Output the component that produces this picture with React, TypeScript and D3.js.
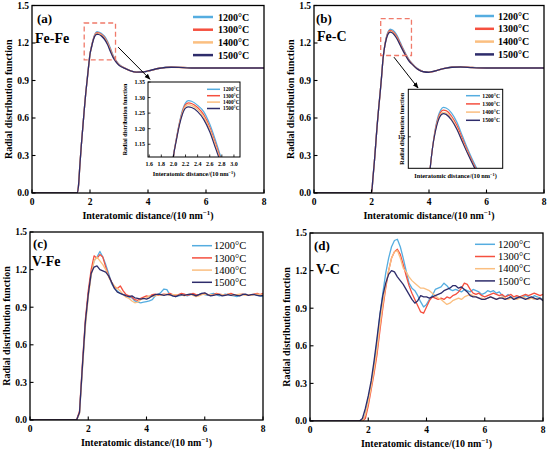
import * as d3 from "d3";

const TEMPS = ["1200°C", "1300°C", "1400°C", "1500°C"];
const COLORS = ["#55ade0", "#f5503f", "#fbbf80", "#2e2c6b"];

// Fe-Fe
const FEFE_X = [0, 1.5, 1.55, 1.6, 1.65, 1.7, 1.75, 1.8, 1.85, 1.9, 1.95, 2.0, 2.05, 2.1, 2.15, 2.2, 2.25, 2.3,
  2.4, 2.5, 2.6, 2.7, 2.8, 2.9, 3.0, 3.2, 3.4, 3.6, 3.8, 4.0, 4.4, 4.8, 5.2, 5.6, 6.0, 7.0, 8.0];
const FEFE_1200 = [0, 0, 0, 0.05, 0.22, 0.38, 0.52, 0.66, 0.79, 0.9, 1.01, 1.11, 1.17, 1.22, 1.26, 1.283, 1.29, 1.288,
  1.275, 1.255, 1.215, 1.16, 1.1, 1.06, 1.03, 1.0, 0.978, 0.966, 0.966, 0.975, 0.998, 1.008, 1.005, 1.0, 1.0, 1.0, 1.0];
const FEFE_1300 = [0, 0, 0, 0.05, 0.22, 0.38, 0.52, 0.66, 0.79, 0.9, 1.01, 1.11, 1.168, 1.218, 1.255, 1.277, 1.283, 1.281,
  1.268, 1.245, 1.205, 1.15, 1.093, 1.055, 1.027, 0.999, 0.977, 0.966, 0.967, 0.976, 0.998, 1.007, 1.004, 1.0, 1.0, 1.0, 1.0];
const FEFE_1400 = [0, 0, 0, 0.05, 0.22, 0.38, 0.52, 0.66, 0.79, 0.9, 1.01, 1.11, 1.166, 1.215, 1.251, 1.272, 1.277, 1.275,
  1.262, 1.238, 1.198, 1.143, 1.088, 1.051, 1.025, 0.998, 0.977, 0.967, 0.967, 0.976, 0.998, 1.006, 1.004, 1.0, 1.0, 1.0, 1.0];
const FEFE_1500 = [0, 0, 0, 0.05, 0.22, 0.38, 0.52, 0.66, 0.79, 0.9, 1.01, 1.11, 1.164, 1.212, 1.247, 1.266, 1.27, 1.268,
  1.255, 1.23, 1.19, 1.135, 1.083, 1.048, 1.022, 0.997, 0.977, 0.967, 0.968, 0.977, 0.998, 1.006, 1.003, 1.0, 1.0, 1.0, 1.0];

// Fe-C
const FEC_X = [0, 1.9, 2.0, 2.05, 2.1, 2.15, 2.2, 2.25, 2.3, 2.35, 2.4, 2.45, 2.5, 2.55, 2.6, 2.65, 2.7, 2.8, 2.9,
  3.0, 3.1, 3.2, 3.3, 3.4, 3.6, 3.8, 4.0, 4.2, 4.5, 4.8, 5.1, 5.5, 6.0, 6.5, 7.0, 7.5, 8.0];
const FEC_1200 = [0, 0, 0, 0.12, 0.25, 0.4, 0.55, 0.68, 0.8, 0.93, 1.07, 1.16, 1.23, 1.275, 1.3, 1.31, 1.308, 1.29, 1.255,
  1.205, 1.155, 1.11, 1.07, 1.04, 0.995, 0.972, 0.965, 0.975, 0.995, 1.008, 1.01, 1.005, 1.0, 1.0, 1.0, 1.0, 1.0];
const FEC_1300 = [0, 0, 0, 0.12, 0.25, 0.4, 0.55, 0.68, 0.8, 0.93, 1.07, 1.16, 1.225, 1.268, 1.292, 1.3, 1.298, 1.278, 1.243,
  1.195, 1.147, 1.103, 1.065, 1.037, 0.993, 0.971, 0.965, 0.975, 0.995, 1.007, 1.009, 1.004, 1.0, 1.0, 1.0, 1.0, 1.0];
const FEC_1400 = [0, 0, 0, 0.12, 0.25, 0.4, 0.55, 0.68, 0.8, 0.93, 1.07, 1.16, 1.22, 1.262, 1.285, 1.292, 1.289, 1.268, 1.232,
  1.185, 1.14, 1.097, 1.06, 1.034, 0.992, 0.971, 0.966, 0.976, 0.995, 1.006, 1.008, 1.004, 1.0, 1.0, 1.0, 1.0, 1.0];
const FEC_1500 = [0, 0, 0, 0.12, 0.25, 0.4, 0.55, 0.68, 0.8, 0.93, 1.07, 1.16, 1.218, 1.258, 1.28, 1.287, 1.284, 1.263, 1.228,
  1.182, 1.137, 1.095, 1.058, 1.033, 0.991, 0.97, 0.966, 0.976, 0.995, 1.006, 1.008, 1.003, 1.0, 1.0, 1.0, 1.0, 1.0];

// V-Fe and V-C share one r grid
const V_X = [0, 1.5,
  1.6, 1.7, 1.8, 1.9, 2.0, 2.1, 2.2, 2.3, 2.4, 2.5,
  2.6, 2.7, 2.8, 2.9, 3.0, 3.1, 3.2, 3.3, 3.4, 3.5,
  3.6, 3.7, 3.8, 3.9, 4.0, 4.1, 4.2, 4.3, 4.4, 4.5,
  4.6, 4.7, 4.8, 4.9, 5.0, 5.1, 5.2, 5.3, 5.4, 5.5,
  5.6, 5.7, 5.8, 5.9, 6.0, 6.1, 6.2, 6.3, 6.4, 6.5,
  6.6, 6.7, 6.8, 6.9, 7.0, 7.1, 7.2, 7.3, 7.4, 7.5,
  7.6, 7.7, 7.8, 7.9, 8.0];

const VFE_1200 = [0, 0,
  0, 0.06, 0.42, 0.76, 1.0, 1.17, 1.27, 1.3, 1.345, 1.3,
  1.24, 1.17, 1.09, 1.05, 1.03, 1.01, 1.0, 1.0, 0.98, 0.975,
  0.95, 0.94, 0.935, 0.94, 0.945, 0.95, 0.96, 0.99, 1.0, 1.02,
  1.045, 1.04, 1.0, 0.99, 0.985, 0.99, 0.995, 1.0, 0.99, 1.0,
  1.005, 0.995, 1.0, 1.01, 1.0, 0.995, 1.005, 1.01, 1.0, 0.99,
  0.995, 1.005, 1.0, 0.995, 0.99, 0.985, 0.995, 1.005, 1.0, 0.995,
  1.0, 1.005, 0.995, 0.99, 0.985];
const VFE_1300 = [0, 0,
  0, 0.07, 0.45, 0.8, 1.03, 1.2, 1.31, 1.29, 1.32, 1.3,
  1.22, 1.15, 1.1, 1.06, 1.05, 1.07, 1.03, 1.0, 0.99, 0.98,
  0.96, 0.955, 0.97, 0.98, 0.99, 0.985, 1.0, 1.005, 0.995, 1.0,
  1.005, 1.0, 1.01, 1.0, 0.995, 1.0, 1.01, 1.005, 0.995, 1.0,
  1.01, 1.0, 0.995, 1.005, 1.01, 1.0, 0.995, 1.0, 1.01, 1.005,
  1.0, 0.995, 1.005, 1.01, 1.0, 0.995, 1.0, 1.005, 1.0, 0.995,
  1.0, 1.005, 1.01, 1.0, 1.01];
const VFE_1400 = [0, 0,
  0, 0.05, 0.4, 0.74, 0.98, 1.15, 1.27, 1.3, 1.27, 1.24,
  1.2, 1.14, 1.1, 1.07, 1.05, 1.03, 1.0, 0.98, 0.97, 0.95,
  0.935, 0.94, 0.96, 0.97, 0.975, 0.99, 0.985, 0.99, 1.0, 0.995,
  1.0, 1.005, 0.995, 1.0, 1.0, 0.995, 1.0, 0.99, 1.0, 1.005,
  0.995, 0.985, 0.99, 1.0, 1.005, 1.0, 1.0, 0.995, 1.005, 1.0,
  1.0, 0.995, 1.005, 1.0, 0.995, 1.0, 1.005, 1.0, 0.995, 1.0,
  0.995, 1.0, 1.005, 1.0, 0.995];
const VFE_1500 = [0, 0,
  0, 0.06, 0.43, 0.78, 1.0, 1.17, 1.22, 1.23, 1.2, 1.19,
  1.18, 1.15, 1.1, 1.05, 1.02, 1.01, 1.0, 0.99, 0.985, 0.99,
  0.975, 0.97, 0.965, 0.97, 0.965, 0.975, 0.99, 1.0, 1.005, 1.0,
  0.995, 1.0, 1.0, 0.99, 0.985, 0.995, 1.0, 0.995, 1.0, 1.005,
  1.0, 0.99, 1.0, 1.01, 1.015, 1.0, 0.99, 0.995, 1.0, 1.0,
  0.99, 0.995, 1.0, 0.995, 1.0, 0.995, 0.99, 1.0, 1.005, 0.995,
  1.0, 1.0, 0.995, 0.99, 0.995];

const VC_1200 = [0, 0,
  0, 0, 0, 0.05, 0.18, 0.29, 0.45, 0.63, 0.84, 1.02,
  1.18, 1.3, 1.39, 1.44, 1.45, 1.39, 1.3, 1.2, 1.1, 1.06,
  1.04, 1.0, 0.95, 0.91, 0.93, 0.97, 1.0, 1.05, 1.06, 1.07,
  1.1, 1.08, 1.05, 1.04, 1.05, 1.04, 1.03, 1.05, 1.04, 1.03,
  1.05, 1.04, 1.03, 1.01, 1.02, 1.04, 1.03, 1.04, 1.02, 1.03,
  1.0, 0.99, 1.01, 0.99, 0.97, 0.99, 0.98, 0.99, 1.0, 0.99,
  0.98, 1.0, 0.99, 0.98, 0.97];
const VC_1300 = [0, 0,
  0, 0, 0, 0.02, 0.12, 0.25, 0.38, 0.53, 0.72, 0.9,
  1.06, 1.2, 1.3, 1.35, 1.37, 1.33, 1.25, 1.16, 1.08, 1.02,
  0.97, 0.92, 0.87, 0.86, 0.91, 0.96, 0.99, 0.98, 0.97, 0.98,
  0.97, 0.99, 0.98, 1.0, 1.01, 1.03, 1.06, 1.1, 1.09, 1.05,
  1.02, 1.01, 1.02, 1.0, 0.99, 1.0, 1.01, 1.02, 1.01, 1.0,
  1.01, 0.99, 1.0, 1.01, 0.99, 1.0, 0.99, 1.0, 1.01, 1.0,
  1.01, 1.02, 1.01, 1.0, 1.01];
const VC_1400 = [0, 0,
  0, 0, 0, 0.05, 0.15, 0.27, 0.41, 0.57, 0.76, 0.93,
  1.08, 1.2, 1.3, 1.35, 1.36, 1.3, 1.22, 1.19, 1.15, 1.12,
  1.1, 1.08, 1.06, 1.06, 1.05, 1.04, 1.02, 1.0, 0.98, 0.97,
  0.95, 0.93, 0.94, 0.96, 0.97, 0.98, 0.97, 0.99, 1.0, 1.01,
  1.0, 0.99, 0.98, 0.98, 0.97, 0.98, 0.99, 0.98, 0.97, 0.98,
  0.99, 0.98, 0.97, 0.98, 0.98, 0.97, 0.98, 0.99, 0.98, 0.97,
  0.98, 0.97, 0.98, 0.97, 0.97];
const VC_1500 = [0, 0,
  0, 0, 0.02, 0.1, 0.2, 0.32, 0.48, 0.66, 0.85, 1.0,
  1.1, 1.17, 1.2, 1.19, 1.15, 1.12, 1.09, 1.05, 1.01, 0.97,
  0.94, 0.96, 1.0, 0.99, 0.99, 0.98, 0.99, 1.0, 1.01, 1.02,
  1.04, 1.05, 1.06, 1.08, 1.08, 1.06, 1.07, 1.05, 1.03, 1.0,
  0.99, 0.99, 0.98, 0.97, 0.97, 0.98, 0.99, 0.98, 0.97, 0.98,
  0.98, 0.97, 0.98, 0.99, 0.97, 0.98, 0.99, 0.98, 0.97, 0.98,
  0.99, 0.98, 0.97, 0.98, 0.96];

const X_TICKS = [0, 2, 4, 6, 8];
const Y_TICKS = [0, 0.3, 0.6, 0.9, 1.2, 1.5];
const INSET_A_X_TICKS = [1.6, 1.8, 2.0, 2.2, 2.4, 2.6, 2.8, 3.0];
const INSET_A_Y_TICKS = [1.15, 1.2, 1.25, 1.3, 1.35];
const INSET_B_Y_TICKS = [1.2];

const FONT = "'Liberation Serif', 'Times New Roman', serif";

type Legend = { x0: number; x1: number; tx: number; y0: number; dy: number; size: number; bold: boolean; width: number };
type Inset = {
  left: number; top: number; right: number; bottom: number;
  xDomain: [number, number]; yDomain: [number, number];
  xTicks: number[]; yTicks: number[]; xFmt: string; yFmt: string;
  font: number; legend: Legend; yTitleDx: number; xTitleDy: number;
};
type Spec = {
  id: string; left: number; top: number; right: number; bottom: number;
  letter: string; pair: string; letterY: number; pairY: number; letterX: number; pairX: number;
  xs: number[]; series: number[][]; smooth: boolean; legend: Legend;
  box?: { x: [number, number]; y: [number, number] };
  arrow?: { from: [number, number]; to: [number, number] };
  inset?: Inset;
};

const PANELS: Spec[] = [
  {
    id: "a", left: 32, top: 5.5, right: 264, bottom: 193,
    letter: "(a)", pair: "Fe-Fe", letterX: 5, letterY: 17, pairX: 3, pairY: 37,
    xs: FEFE_X, series: [FEFE_1200, FEFE_1300, FEFE_1400, FEFE_1500], smooth: true,
    legend: { x0: 161, x1: 181, tx: 186, y0: 11.5, dy: 12.7, size: 10, bold: true, width: 2.5 },
    box: { x: [1.8, 2.88], y: [1.065, 1.36] },
    arrow: { from: [2.97, 1.167], to: [4.07, 0.91] },
    inset: {
      left: 148, top: 82, right: 240, bottom: 157,
      xDomain: [1.58, 3.1], yDomain: [1.109, 1.35],
      xTicks: INSET_A_X_TICKS, yTicks: INSET_A_Y_TICKS, xFmt: ".1f", yFmt: ".2f",
      font: 6,
      legend: { x0: 59, x1: 72, tx: 75, y0: 7.3, dy: 6.4, size: 5.3, bold: true, width: 1.5 },
      yTitleDx: -21, xTitleDy: 19,
    },
  },
  {
    id: "b", left: 314, top: 5.5, right: 544, bottom: 193,
    letter: "(b)", pair: "Fe-C", letterX: 2, letterY: 17, pairX: 3, pairY: 35,
    xs: FEC_X, series: [FEC_1200, FEC_1300, FEC_1400, FEC_1500], smooth: true,
    legend: { x0: 161, x1: 180, tx: 184, y0: 10.5, dy: 12.8, size: 10, bold: true, width: 2.5 },
    box: { x: [2.32, 3.39], y: [1.1, 1.395] },
    arrow: { from: [2.78, 1.087], to: [3.62, 0.84] },
    inset: {
      left: 408.3, top: 89.3, right: 502.7, bottom: 168.3,
      xDomain: [2.0, 3.75], yDomain: [1.082, 1.378],
      xTicks: [], yTicks: INSET_B_Y_TICKS, xFmt: ".1f", yFmt: ".1f",
      font: 6,
      legend: { x0: 57.7, x1: 71.7, tx: 74, y0: 6.4, dy: 8.2, size: 5.7, bold: true, width: 1.5 },
      yTitleDx: -4, xTitleDy: 10,
    },
  },
  {
    id: "c", left: 30, top: 232, right: 263, bottom: 420,
    letter: "(c)", pair: "V-Fe", letterX: 3, letterY: 16, pairX: 2, pairY: 34,
    xs: V_X, series: [VFE_1200, VFE_1300, VFE_1400, VFE_1500], smooth: false,
    legend: { x0: 162, x1: 182, tx: 184, y0: 13.7, dy: 12.2, size: 10.5, bold: false, width: 1.5 },
  },
  {
    id: "d", left: 310, top: 233, right: 543, bottom: 421,
    letter: "(d)", pair: "V-C", letterX: 4, letterY: 17, pairX: 6, pairY: 41,
    xs: V_X, series: [VC_1200, VC_1300, VC_1400, VC_1500], smooth: false,
    legend: { x0: 165, x1: 185, tx: 188, y0: 11.3, dy: 12.2, size: 10.5, bold: false, width: 1.5 },
  },
];

function XTitle({ x, y, size }: { x: number; y: number; size: number }) {
  return (
    <text x={x} y={y} textAnchor="middle" fontSize={size} fontWeight="bold" fontFamily={FONT}>
      Interatomic distance/(10 nm
      <tspan fontSize={size * 0.68} dy={-size * 0.38}>−1</tspan>
      <tspan dy={size * 0.38}>)</tspan>
    </text>
  );
}

function LegendBlock({ lg, left, top }: { lg: Legend; left: number; top: number }) {
  return (
    <g>
      {TEMPS.map((t, i) => {
        const yy = top + lg.y0 + i * lg.dy;
        return (
          <g key={t}>
            <line x1={left + lg.x0} x2={left + lg.x1} y1={yy} y2={yy} stroke={COLORS[i]} strokeWidth={lg.width} />
            <text x={left + lg.tx} y={yy} dy="0.35em" fontSize={lg.size} fontWeight={lg.bold ? "bold" : "normal"} fontFamily={FONT}>
              {t}
            </text>
          </g>
        );
      })}
    </g>
  );
}

function InsetPlot({ s, ins }: { s: Spec; ins: Inset }) {
  const x = d3.scaleLinear().domain(ins.xDomain).range([ins.left, ins.right]);
  const y = d3.scaleLinear().domain(ins.yDomain).range([ins.bottom, ins.top]);
  const line = d3.line<number>().x((_, i) => x(s.xs[i])).y((v) => y(v)).curve(d3.curveMonotoneX);
  const clip = `clip-inset-${s.id}`;
  const fs = ins.font;
  return (
    <g>
      <defs>
        <clipPath id={clip}>
          <rect x={ins.left} y={ins.top} width={ins.right - ins.left} height={ins.bottom - ins.top} />
        </clipPath>
      </defs>
      <rect x={ins.left} y={ins.top} width={ins.right - ins.left} height={ins.bottom - ins.top} fill="#fff" />
      <g clipPath={`url(#${clip})`}>
        {s.series.map((ser, i) => (
          <path key={i} d={line(ser) ?? ""} fill="none" stroke={COLORS[i]} strokeWidth={1.2} />
        ))}
      </g>
      <rect x={ins.left} y={ins.top} width={ins.right - ins.left} height={ins.bottom - ins.top} fill="none" stroke="#000" strokeWidth={1} />
      {ins.xTicks.map((t) => (
        <g key={t}>
          <line x1={x(t)} x2={x(t)} y1={ins.bottom} y2={ins.bottom - 2.5} stroke="#000" strokeWidth={0.8} />
          <text x={x(t)} y={ins.bottom + 9} textAnchor="middle" fontSize={fs} fontWeight="bold" fontFamily={FONT}>
            {d3.format(ins.xFmt)(t)}
          </text>
        </g>
      ))}
      {ins.yTicks.map((t) => (
        <g key={t}>
          <line x1={ins.left} x2={ins.left + 2.5} y1={y(t)} y2={y(t)} stroke="#000" strokeWidth={0.8} />
          <text x={ins.left - 3} y={y(t)} dy="0.35em" textAnchor="end" fontSize={fs} fontWeight="bold" fontFamily={FONT}>
            {d3.format(ins.yFmt)(t)}
          </text>
        </g>
      ))}
      <text
        transform={`translate(${ins.left + ins.yTitleDx},${(ins.top + ins.bottom) / 2}) rotate(-90)`}
        textAnchor="middle" fontSize={fs} fontWeight="bold" fontFamily={FONT}
      >
        Radial distribution function
      </text>
      <XTitle x={(ins.left + ins.right) / 2} y={ins.bottom + ins.xTitleDy} size={fs * 1.05} />
      <LegendBlock lg={ins.legend} left={ins.left} top={ins.top} />
    </g>
  );
}

function Panel({ s }: { s: Spec }) {
  const x = d3.scaleLinear().domain([0, 8]).range([s.left, s.right]);
  const y = d3.scaleLinear().domain([0, 1.5]).range([s.bottom, s.top]);
  const line = d3
    .line<number>()
    .x((_, i) => x(s.xs[i]))
    .y((v) => y(v))
    .curve(s.smooth ? d3.curveMonotoneX : d3.curveLinear);
  const clip = `clip-${s.id}`;
  return (
    <g>
      <defs>
        <clipPath id={clip}>
          <rect x={s.left} y={s.top} width={s.right - s.left} height={s.bottom - s.top} />
        </clipPath>
      </defs>
      <g clipPath={`url(#${clip})`}>
        {s.series.map((ser, i) => (
          <path key={i} d={line(ser) ?? ""} fill="none" stroke={COLORS[i]} strokeWidth={1.3} strokeLinejoin="round" />
        ))}
      </g>
      <rect x={s.left} y={s.top} width={s.right - s.left} height={s.bottom - s.top} fill="none" stroke="#000" strokeWidth={1.3} />
      {X_TICKS.map((t) => (
        <g key={t}>
          <line x1={x(t)} x2={x(t)} y1={s.bottom} y2={s.bottom - 3.5} stroke="#000" strokeWidth={1.1} />
          <text x={x(t)} y={s.bottom + 12} textAnchor="middle" fontSize={9.5} fontWeight="bold" fontFamily={FONT}>
            {t}
          </text>
        </g>
      ))}
      {Y_TICKS.map((t) => (
        <g key={t}>
          <line x1={s.left} x2={s.left + 3.5} y1={y(t)} y2={y(t)} stroke="#000" strokeWidth={1.1} />
          <text x={s.left - 3} y={y(t)} dy="0.35em" textAnchor="end" fontSize={9.5} fontWeight="bold" fontFamily={FONT}>
            {d3.format(".1f")(t)}
          </text>
        </g>
      ))}
      <text
        transform={`translate(${s.left - 20},${(s.top + s.bottom) / 2}) rotate(-90)`}
        textAnchor="middle" fontSize={10} fontWeight="bold" fontFamily={FONT}
      >
        Radial distribution function
      </text>
      <XTitle x={(s.left + s.right) / 2} y={s.bottom + 26} size={10} />
      <text x={s.left + s.letterX} y={s.top + s.letterY} fontSize={13} fontWeight="bold" fontFamily={FONT}>
        {s.letter}
      </text>
      <text x={s.left + s.pairX} y={s.top + s.pairY} fontSize={14} fontWeight="bold" fontFamily={FONT}>
        {s.pair}
      </text>
      <LegendBlock lg={s.legend} left={s.left} top={s.top} />
      {s.box && (
        <rect
          x={x(s.box.x[0])} y={y(s.box.y[1])}
          width={x(s.box.x[1]) - x(s.box.x[0])} height={y(s.box.y[0]) - y(s.box.y[1])}
          fill="none" stroke="#f07a6a" strokeWidth={1.3} strokeDasharray="5,3"
        />
      )}
      {s.arrow && (
        <line
          x1={x(s.arrow.from[0])} y1={y(s.arrow.from[1])} x2={x(s.arrow.to[0])} y2={y(s.arrow.to[1])}
          stroke="#000" strokeWidth={1} markerEnd="url(#arrowhead)"
        />
      )}
      {s.inset && <InsetPlot s={s} ins={s.inset} />}
    </g>
  );
}

export default function App() {
  return (
    <svg
      width={550}
      height={451}
      style={{ position: "absolute", left: 0, top: 0, background: "#fff" }}
    >
      <defs>
        <marker id="arrowhead" viewBox="0 0 10 10" refX="9" refY="5" markerWidth="6" markerHeight="6" orient="auto">
          <path d="M0,1 L10,5 L0,9 Z" fill="#000" />
        </marker>
      </defs>
      {PANELS.map((p) => (
        <Panel key={p.id} s={p} />
      ))}
    </svg>
  );
}
